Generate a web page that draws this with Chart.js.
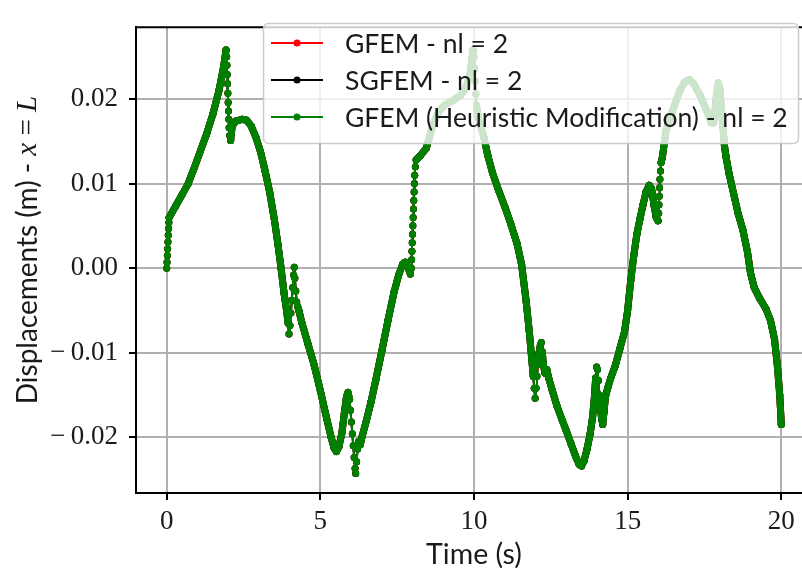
<!DOCTYPE html>
<html>
<head>
<meta charset="utf-8">
<title>Displacements at x = L</title>
<script src="https://cdn.jsdelivr.net/npm/chart.js@4.4.0/dist/chart.umd.min.js"></script>
<style>
  html, body { margin: 0; padding: 0; background: #fff; overflow: hidden; }
  #wrap { width: 802px; height: 577px; overflow: hidden; }
  canvas { display: block; }
</style>
</head>
<body>
<div id="wrap"><canvas id="chart" width="816" height="577"></canvas></div>
<script>
// time (s) and displacement (m)
const timeS = [
  0, 0.01, 0.02, 0.03, 0.04, 0.05, 0.06, 0.07, 0.08, 0.3, 0.5, 0.7, 0.9, 1.1, 1.3, 1.5, 1.7, 1.85, 1.93,
  1.95, 1.96, 1.97, 1.98, 1.99, 2.0, 2.01, 2.02, 2.03, 2.05, 2.08, 2.13, 2.25, 2.45, 2.6, 2.75, 2.9,
  3.05, 3.2, 3.35, 3.5, 3.62, 3.72, 3.82, 3.9, 3.95, 3.98, 4.01, 4.04, 4.07, 4.1, 4.13, 4.15, 4.17,
  4.2, 4.23, 4.26, 4.3, 4.4, 4.6, 4.8, 5.0, 5.2, 5.35, 5.45, 5.52, 5.6, 5.7, 5.78, 5.85, 5.9, 5.95,
  5.98, 6.01, 6.04, 6.07, 6.1, 6.13, 6.15, 6.18, 6.21, 6.25, 6.3, 6.36, 6.5, 6.65, 6.8, 7.0, 7.2,
  7.4, 7.55, 7.68, 7.76, 7.84, 7.93, 7.96, 7.97, 7.98, 7.99, 8.0, 8.01, 8.02, 8.03, 8.04, 8.05, 8.06,
  8.07, 8.09, 8.12, 8.25, 8.45, 8.65, 8.85, 9.05, 9.3, 9.55, 9.75, 9.88, 9.97, 10.0, 10.02, 10.04,
  10.06, 10.08, 10.13, 10.22, 10.32, 10.45, 10.6, 10.8, 11.0, 11.2, 11.4, 11.55, 11.7, 11.8, 11.88,
  11.93, 11.96, 11.99, 12.02, 12.05, 12.08, 12.12, 12.16, 12.19, 12.22, 12.26, 12.31, 12.37, 12.43,
  12.55, 12.7, 12.85, 13.0, 13.15, 13.3, 13.42, 13.5, 13.58, 13.68, 13.78, 13.86, 13.92, 13.96,
  13.99, 14.02, 14.05, 14.08, 14.12, 14.16, 14.19, 14.23, 14.28, 14.35, 14.45, 14.6, 14.75, 14.9,
  15.0, 15.1, 15.2, 15.3, 15.4, 15.5, 15.6, 15.7, 15.78, 15.86, 15.93, 15.99, 16.01, 16.02, 16.03,
  16.04, 16.05, 16.07, 16.09, 16.13, 16.25, 16.45, 16.7, 16.85, 17.0, 17.15, 17.35, 17.55, 17.72,
  17.8, 17.88, 17.95, 18.0, 18.05, 18.1, 18.15, 18.2, 18.3, 18.45, 18.6, 18.75, 18.9, 19.0, 19.12,
  19.3, 19.5, 19.65, 19.78, 19.88, 19.95, 20.0
];
const dispM = [
  0, 0.0007, 0.0015, 0.0023, 0.0031, 0.0039, 0.0047, 0.0054, 0.006, 0.0074, 0.0087, 0.01, 0.0119, 0.0139, 0.0159, 0.0182, 0.021, 0.0238, 0.0258,
  0.025, 0.024, 0.0229, 0.0218, 0.0207, 0.0196, 0.0186, 0.0176, 0.0166, 0.0157, 0.0151, 0.0168, 0.0174, 0.0176, 0.0175, 0.0168, 0.0155,
  0.0138, 0.0115, 0.009, 0.0058, 0.0028, 0, -0.003, -0.005, -0.0065, -0.0078, -0.0068, -0.0053, -0.0038, -0.0023, -0.0008, 0.0001, -0.0012,
  -0.0027, -0.004, -0.0045, -0.005, -0.0065, -0.009, -0.0115, -0.0145, -0.0177, -0.02, -0.0213, -0.0217, -0.0212, -0.0195, -0.0172, -0.0152, -0.0147, -0.0155,
  -0.0168, -0.0182, -0.0196, -0.021, -0.0224, -0.0237, -0.0243, -0.0229, -0.0214, -0.0205, -0.0209, -0.0199, -0.018, -0.0158, -0.0133, -0.0098, -0.0062,
  -0.0028, -0.0008, 0.0005, 0.0007, 0.0002, -0.0007, 0, 0.001, 0.002, 0.003, 0.004, 0.005, 0.006, 0.007, 0.008, 0.009, 0.01,
  0.011, 0.012, 0.0128, 0.0133, 0.0142, 0.0168, 0.0185, 0.0193, 0.0198, 0.0204, 0.0214, 0.0232, 0.0258, 0.025, 0.0236, 0.0221,
  0.0206, 0.0192, 0.018, 0.0168, 0.0155, 0.0133, 0.0113, 0.0092, 0.0073, 0.0052, 0.0029, 0.0004, -0.004, -0.0075, -0.0108,
  -0.0128, -0.0142, -0.0154, -0.0142, -0.0128, -0.0114, -0.01, -0.0091, -0.0088, -0.0099, -0.0115, -0.0124, -0.012, -0.013,
  -0.0145, -0.0163, -0.0178, -0.0192, -0.0207, -0.0222, -0.0232, -0.0234, -0.0228, -0.0214, -0.0196, -0.0176, -0.0152, -0.013,
  -0.0117, -0.012, -0.0133, -0.015, -0.0168, -0.018, -0.0185, -0.017, -0.0152, -0.0142, -0.013, -0.0115, -0.0095, -0.0075,
  -0.005, -0.0015, 0.0015, 0.004, 0.0058, 0.0075, 0.009, 0.0098, 0.0094, 0.0074, 0.006, 0.0056, 0.0065, 0.0075, 0.0085,
  0.0095, 0.0105, 0.0115, 0.0125, 0.0131, 0.0163, 0.0185, 0.021, 0.022, 0.0223, 0.0218, 0.0205, 0.0188, 0.0172,
  0.0172, 0.02, 0.0219, 0.0212, 0.019, 0.0168, 0.0145, 0.0132, 0.0112, 0.0088, 0.0064, 0.0045, 0.0019, -0.0006, -0.0023,
  -0.0036, -0.0048, -0.0062, -0.0084, -0.0118, -0.015, -0.0185
];

const xTicks = [0, 5, 10, 15, 20];
const yTicks = [-0.02, -0.01, 0, 0.01, 0.02];
const seriesLabels = ['GFEM - nl = 2', 'SGFEM - nl = 2', 'GFEM (Heuristic Modification) - nl = 2'];
const seriesColors = ['#ff0000', '#000000', '#008000'];

const SANS = "Lato, 'Open Sans', sans-serif";
const SERIF = "'Liberation Serif', serif";

const points = timeS.map((t, i) => ({ x: t, y: dispM[i] }));

function makeDataset(i) {
  return {
    label: seriesLabels[i],
    data: points,
    order: seriesLabels.length - 1 - i, // last series ends up on top
    borderColor: seriesColors[i],
    backgroundColor: seriesColors[i],
    borderWidth: 7,
    borderJoinStyle: 'round',
    borderCapStyle: 'round',
    pointRadius: 3.5,
    pointBorderWidth: 0,
    pointBackgroundColor: seriesColors[i],
    tension: 0,
    // fast jumps are sparse markers joined by a thin line
    segment: {
      borderWidth: ctx => (ctx.p1.parsed.x - ctx.p0.parsed.x) < 0.035 ? 2 : 7
    }
  };
}

// top/right spines plus a matplotlib-like legend drawn over the curves
const framePlugin = {
  id: 'frameAndLegend',
  afterDatasetsDraw(chart) {
    const { ctx, chartArea: a } = chart;
    ctx.save();
    ctx.strokeStyle = '#000';
    ctx.lineWidth = 2;
    ctx.beginPath();
    ctx.moveTo(a.left, a.top);
    ctx.lineTo(a.right, a.top);
    ctx.lineTo(a.right, a.bottom);
    ctx.stroke();

    // legend box
    ctx.beginPath();
    ctx.roundRect(263.5, 23.5, 535, 120, 5);
    ctx.fillStyle = 'rgba(255,255,255,0.8)';
    ctx.fill();
    ctx.strokeStyle = '#cccccc';
    ctx.lineWidth = 1.5;
    ctx.stroke();

    const rows = [43, 80, 117];
    ctx.font = '26.5px ' + SANS;
    ctx.textBaseline = 'middle';
    ctx.textAlign = 'left';
    seriesLabels.forEach((lab, i) => {
      const y = rows[i];
      ctx.strokeStyle = seriesColors[i];
      ctx.lineWidth = 2;
      ctx.beginPath();
      ctx.moveTo(271, y);
      ctx.lineTo(323, y);
      ctx.stroke();
      ctx.fillStyle = seriesColors[i];
      ctx.beginPath();
      ctx.arc(297, y, 3.5, 0, Math.PI * 2);
      ctx.fill();
      ctx.fillStyle = '#1a1a1a';
      ctx.fillText(lab, 345, y + 1);
    });
    ctx.restore();
  },
  afterDraw(chart) {
    const { ctx } = chart;
    ctx.save();
    ctx.fillStyle = '#1a1a1a';
    ctx.textBaseline = 'middle';

    // x axis title
    ctx.font = '28.5px ' + SANS;
    ctx.textAlign = 'center';
    ctx.fillText('Time (s)', 474, 555);

    // y axis title, mixed text and math fonts
    const parts = [
      ['Displacements (m) - ', '28px ' + SANS],
      ['x', 'italic 29px ' + SERIF],
      [' = ', '29px ' + SERIF],
      ['L', 'italic 29px ' + SERIF]
    ];
    let total = 0;
    parts.forEach(p => { ctx.font = p[1]; total += ctx.measureText(p[0]).width; });
    ctx.translate(28, 250);
    ctx.rotate(-Math.PI / 2);
    ctx.textAlign = 'left';
    let x = -total / 2;
    parts.forEach(p => {
      ctx.font = p[1];
      ctx.fillText(p[0], x, 0);
      x += ctx.measureText(p[0]).width;
    });
    ctx.restore();
  }
};

new Chart(document.getElementById('chart').getContext('2d'), {
  type: 'line',
  data: { datasets: [makeDataset(0), makeDataset(1), makeDataset(2)] },
  options: {
    responsive: false,
    animation: false,
    devicePixelRatio: 1,
    layout: { padding: { top: 9, right: 4, left: 0, bottom: 0 } },
    plugins: { legend: { display: false }, tooltip: { enabled: false } },
    scales: {
      x: {
        type: 'linear',
        min: -1,
        max: 21,
        afterBuildTicks: s => { s.ticks = xTicks.map(v => ({ value: v })); },
        afterFit: s => { s.height = 84; },
        grid: { color: '#b0b0b0', lineWidth: 2, tickColor: '#000', tickWidth: 2, tickLength: 7 },
        border: { color: '#000', width: 2 },
        ticks: {
          autoSkip: false, maxRotation: 0, padding: 6, color: '#1a1a1a',
          font: { family: SERIF, size: 27 },
          callback: v => String(v)
        }
      },
      y: {
        type: 'linear',
        min: -0.0266,
        max: 0.0285,
        afterBuildTicks: s => { s.ticks = yTicks.map(v => ({ value: v })); },
        afterFit: s => { s.width = 136; },
        grid: { color: '#b0b0b0', lineWidth: 2, tickColor: '#000', tickWidth: 2, tickLength: 7 },
        border: { color: '#000', width: 2 },
        ticks: {
          padding: 11, color: '#1a1a1a',
          font: { family: SERIF, size: 27 },
          callback: v => (v < 0 ? '\u2212\u2009' : '') + Math.abs(v).toFixed(2)
        }
      }
    }
  },
  plugins: [framePlugin]
});
</script>
</body>
</html>
